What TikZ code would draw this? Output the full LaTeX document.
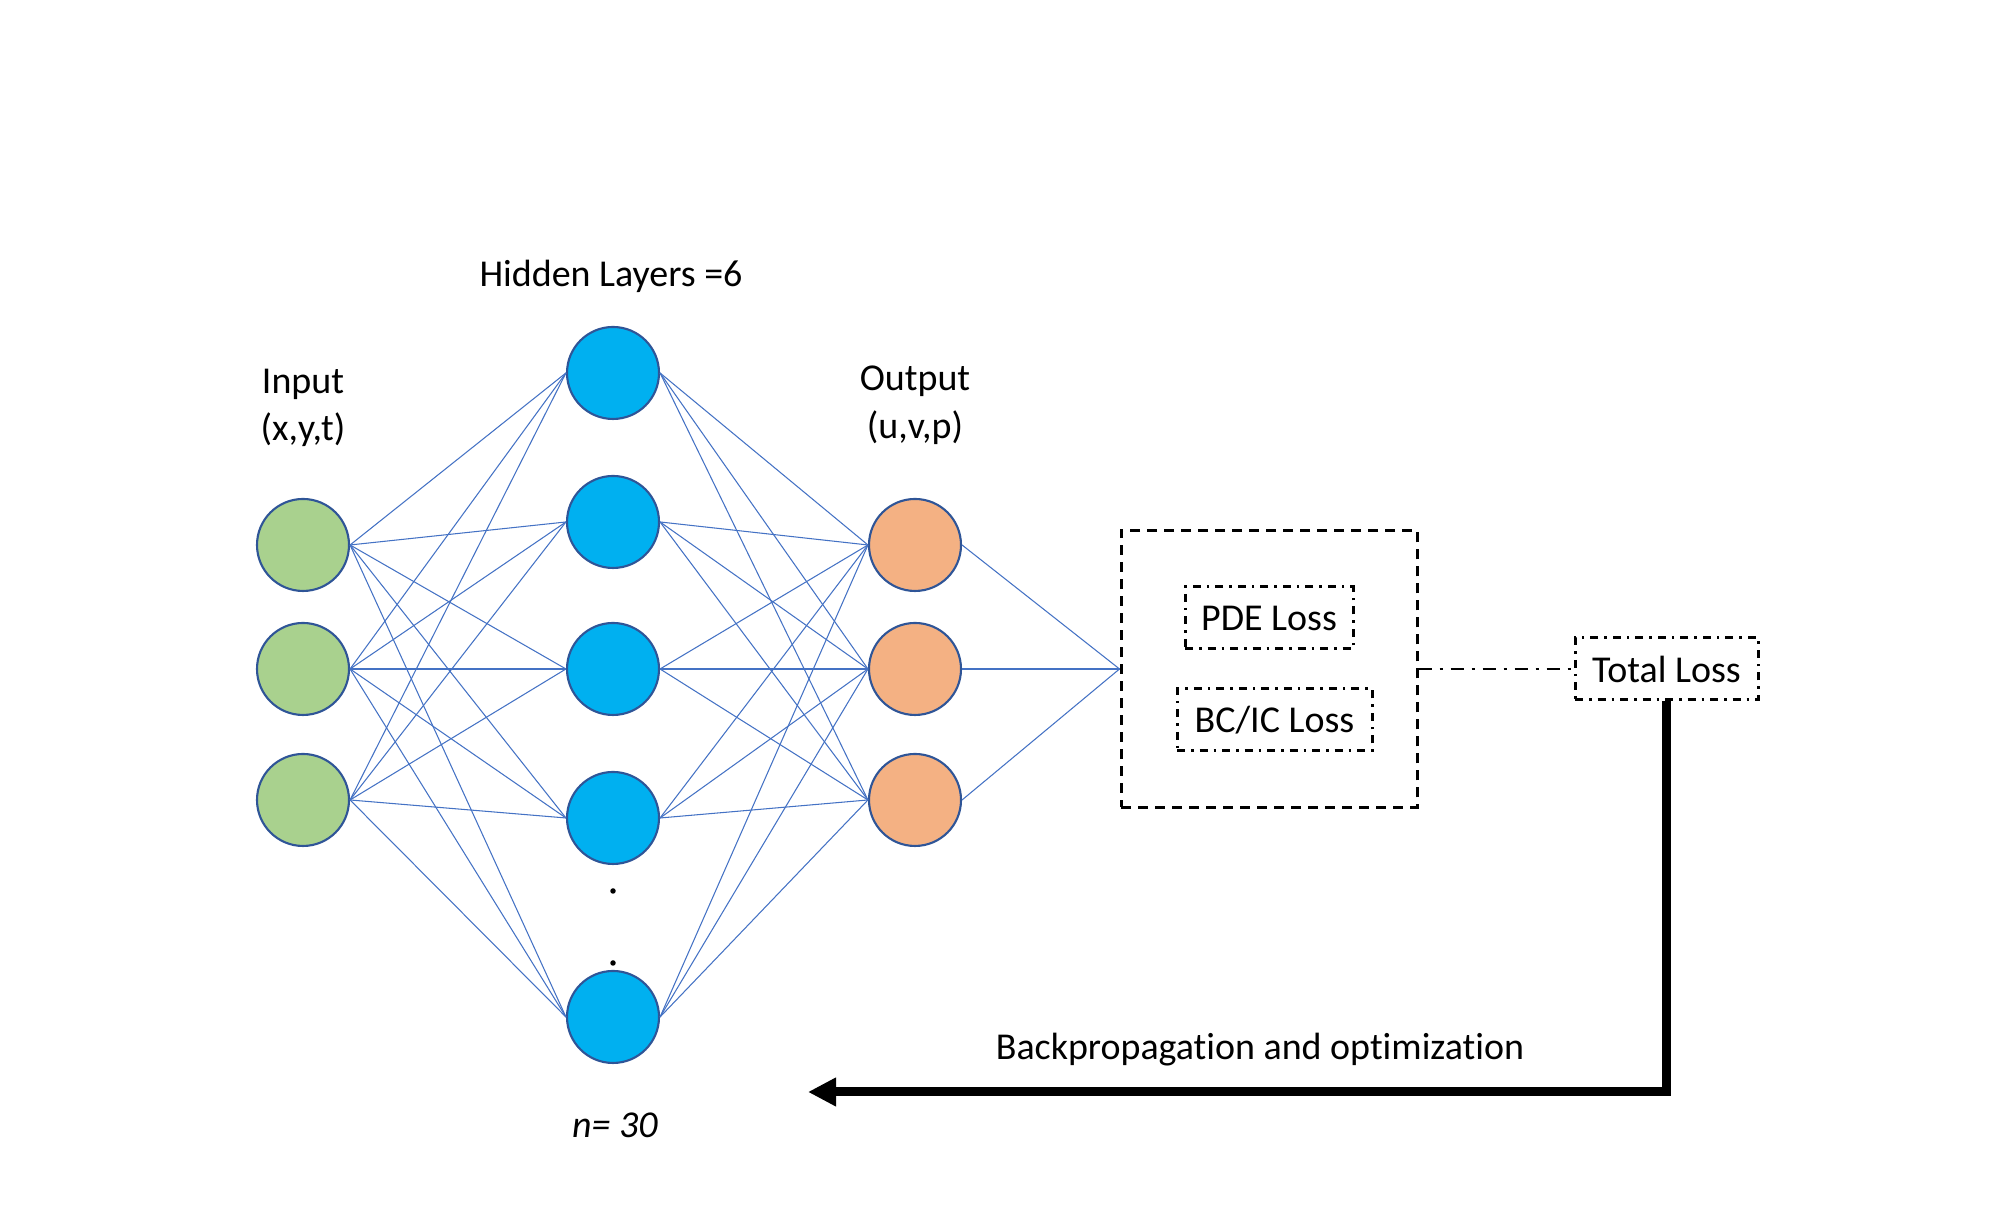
\documentclass[tikz,border=0pt]{standalone}
\usepackage{fontspec}
\setmainfont{Carlito}[Ligatures=NoCommon]
\usepackage{xcolor}
\usepackage{tikz}
\usetikzlibrary{arrows.meta}

\definecolor{ingreen}{HTML}{A9D18E}
\definecolor{hidblue}{HTML}{00B0F0}
\definecolor{outorange}{HTML}{F4B183}
\definecolor{rimblue}{HTML}{2F5597}
\definecolor{wireblue}{HTML}{4472C4}

\begin{document}
\begin{tikzpicture}[>={Triangle[length=2.8mm,width=2.7mm]}, inner sep=2pt,
    neuron/.style={circle, draw=rimblue, line width=0.6pt, minimum size=0.92cm, inner sep=0pt},
    wire/.style={draw=wireblue, line width=0.3pt},
    lossbox/.style={draw, line width=0.85pt, dash pattern=on 1mm off 0.7mm},
    termbox/.style={draw, line width=0.85pt, dash pattern=on 0.8mm off 0.6mm on 0.25mm off 0.6mm, minimum height=0.62cm}]

      \useasboundingbox (0,0) rectangle (20,12.28);
      \tikzstyle{every node}=[font=\fontsize{10.8pt}{13.6pt}\selectfont]

      \node[neuron, fill=ingreen] (i1) at (3.03,6.83) {};
      \node[neuron, fill=ingreen] (i2) at (3.03,5.59) {};
      \node[neuron, fill=ingreen] (i3) at (3.03,4.28) {};

      \node[neuron, fill=hidblue] (h1) at (6.13,8.55) {};
      \node[neuron, fill=hidblue] (h2) at (6.13,7.06) {};
      \node[neuron, fill=hidblue] (h3) at (6.13,5.59) {};
      \node[neuron, fill=hidblue] (h4) at (6.13,4.10) {};
      \node[neuron, fill=hidblue] (h5) at (6.13,2.11) {};
      \node[circle, fill, inner sep=0pt, minimum size=0.055cm] (dot1) at (6.13,3.37) {};
      \node[circle, fill, inner sep=0pt, minimum size=0.055cm] (dot2) at (6.13,2.65) {};

      \node[neuron, fill=outorange] (o1) at (9.15,6.83) {};
      \node[neuron, fill=outorange] (o2) at (9.15,5.59) {};
      \node[neuron, fill=outorange] (o3) at (9.15,4.28) {};

      \node[align=center] (inlabel) at (3.03,8.20) {Input\\(x,y,t)};
      \node (hidlabel) at (6.11,9.52) {Hidden Layers =6};
      \node[align=center] (outlabel) at (9.15,8.23) {Output\\(u,v,p)};
      \node (nlabel) at (6.15,1.03) {\textit{n= 30}};

      \node[lossbox, minimum width=2.96cm, minimum height=2.77cm] (loss) at (12.69,5.59) {};
      \node[termbox, minimum width=1.68cm] (pde) at (12.69,6.10) {PDE Loss};
      \node[termbox, minimum width=1.95cm] (bcic) at (12.745,5.08) {BC/IC Loss};
      \node[termbox, minimum width=1.83cm] (total) at (16.665,5.59) {Total Loss};
      \coordinate (bp) at (8.08,1.36);
      \node (bplabel) at (12.60,1.78) {Backpropagation and optimization};

      \path[wire]
      (i1.east) edge (h1.west)
      (i1.east) edge (h2.west)
      (i1.east) edge (h3.west)
      (i1.east) edge (h4.west)
      (i1.east) edge (h5.west)

      (i2.east) edge (h1.west)
      (i2.east) edge (h2.west)
      (i2.east) edge (h3.west)
      (i2.east) edge (h4.west)
      (i2.east) edge (h5.west)

      (i3.east) edge (h1.west)
      (i3.east) edge (h2.west)
      (i3.east) edge (h3.west)
      (i3.east) edge (h4.west)
      (i3.east) edge (h5.west)

      (h1.east) edge (o1.west)
      (h1.east) edge (o2.west)
      (h1.east) edge (o3.west)
      (h2.east) edge (o1.west)
      (h2.east) edge (o2.west)
      (h2.east) edge (o3.west)
      (h3.east) edge (o1.west)
      (h3.east) edge (o2.west)
      (h3.east) edge (o3.west)
      (h4.east) edge (o1.west)
      (h4.east) edge (o2.west)
      (h4.east) edge (o3.west)
      (h5.east) edge (o1.west)
      (h5.east) edge (o2.west)
      (h5.east) edge (o3.west)

      (o1.east) edge (loss.west)
      (o2.east) edge (loss.west)
      (o3.east) edge (loss.west);

      \draw[line width=0.57pt, dash pattern=on 1.3mm off 0.8mm on 0.3mm off 0.8mm] (loss.east) -- (total.west);
      \draw[->, line width=0.09cm] (total.south) |- (bp);
    \end{tikzpicture}
\end{document}
